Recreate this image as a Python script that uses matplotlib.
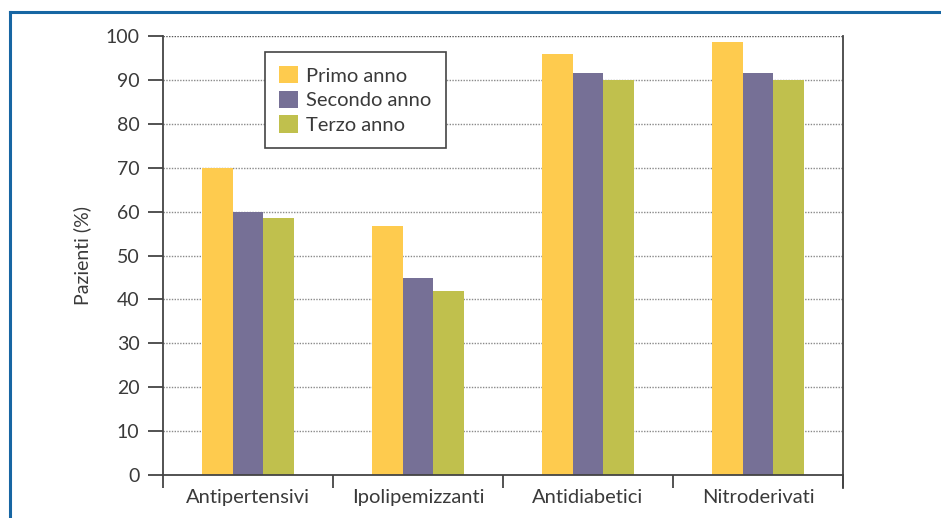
import matplotlib.pyplot as plt
import matplotlib.patches as mpatches
from matplotlib.lines import Line2D
import numpy as np

plt.rcParams['font.family'] = ['Lato', 'DejaVu Sans']

# Data (percent of patients)
categories = ['Antipertensivi', 'Ipolipemizzanti', 'Antidiabetici', 'Nitroderivati']
series_names = ['Primo anno', 'Secondo anno', 'Terzo anno']
primo = [70.0, 56.7, 95.9, 98.6]
secondo = [60.0, 44.9, 91.6, 91.6]
terzo = [58.5, 41.9, 90.0, 90.0]
yticks = [0, 10, 20, 30, 40, 50, 60, 70, 80, 90, 100]

colors = ['#FECB4E', '#767096', '#C0C04D']
text_color = '#3a3a3a'
axis_color = '#444444'

fig = plt.figure(figsize=(9.41, 5.18), dpi=100)
ax = fig.add_axes([163 / 941, 1 - 475 / 518, 680 / 941, 439 / 518])

# Grid lines (dotted), drawn under the bars
for v in yticks[1:-1]:
    ax.axhline(v, color='#8a8a8a', linestyle=(0, (1, 1)), linewidth=1.0, zorder=0)
ax.axhline(100, color='#555555', linestyle=(0, (1, 1)), linewidth=1.0, zorder=0)

x = np.arange(len(categories)) + 0.5
width = 0.18
for i, (vals, name) in enumerate(zip([primo, secondo, terzo], series_names)):
    ax.bar(x + (i - 1) * width, vals, width=width, color=colors[i],
           label=name, zorder=2, linewidth=0)

ax.set_xlim(0, len(categories))
ax.set_ylim(0, 100)

# Category boundary ticks and centered labels
ax.set_xticks(np.arange(len(categories) + 1))
ax.set_xticklabels([])
ax.set_xticks(x, minor=True)
ax.set_xticklabels(categories, minor=True, fontsize=14.5, color=text_color)
ax.tick_params(axis='x', which='major', direction='out', length=9.5,
               width=1.3, color=axis_color)
ax.tick_params(axis='x', which='minor', length=0, pad=10)

ax.set_yticks(yticks)
ax.set_yticklabels([str(v) for v in yticks], fontsize=14, color=text_color)
ax.tick_params(axis='y', direction='out', length=11, width=1.3,
               color=axis_color, pad=6)

ax.set_ylabel('Pazienti (%)', fontsize=14, color=text_color, labelpad=10)

for side in ['left', 'bottom', 'right']:
    ax.spines[side].set_color(axis_color)
    ax.spines[side].set_linewidth(1.3)
ax.spines['top'].set_visible(False)

# Extend the right spine below the axis like the boundary ticks
ax.plot([1, 1], [0, -13 / 439], transform=ax.transAxes, color=axis_color,
        linewidth=1.3, clip_on=False)

handles = [mpatches.Patch(facecolor=c, edgecolor='none') for c in colors]
leg = ax.legend(handles, series_names, loc='upper left',
                bbox_to_anchor=(102 / 680, (475 - 52) / 439),
                borderaxespad=0, fancybox=False, framealpha=1,
                edgecolor=axis_color, fontsize=14.5, handlelength=0.95,
                handleheight=0.95, handletextpad=0.4, labelspacing=0.3,
                borderpad=0.7)
leg.get_frame().set_linewidth(1.2)
for t in leg.get_texts():
    t.set_color(text_color)

# Blue frame along top and left
fig.add_artist(Line2D([9.5 / 941, 1], [1 - 11.5 / 518, 1 - 11.5 / 518],
                      color='#1766a3', linewidth=2.2))
fig.add_artist(Line2D([9.5 / 941, 9.5 / 941], [0, 1 - 11.5 / 518],
                      color='#1766a3', linewidth=2.2))

fig.savefig('out.png', dpi=100)
